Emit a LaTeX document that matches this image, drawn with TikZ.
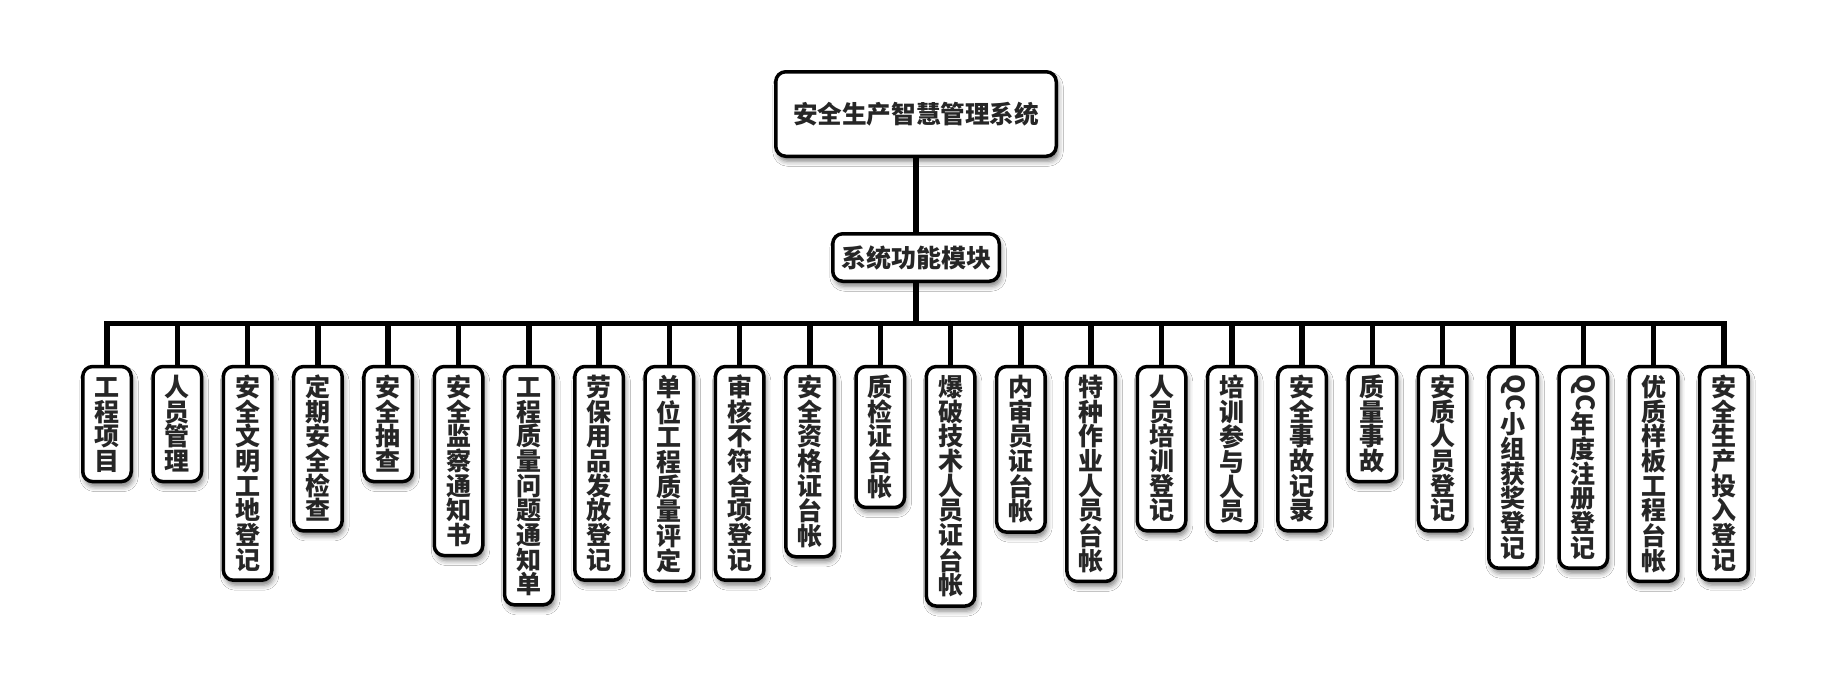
\documentclass[tikz,border=0pt]{standalone}
\usepackage{fontspec}
\newfontfamily\cjk{Noto Sans CJK SC}
\usetikzlibrary{positioning,shadows.blur}
\tikzset{
  panel/.style={draw,line width=3.5pt,rounded corners=10pt,fill=white,text=black!85,
    blur shadow={shadow xshift=2pt,shadow yshift=-5pt,shadow blur radius=5pt,shadow opacity=50}},
  topbox/.style={panel,minimum width=280.5pt,minimum height=84.5pt,
    font=\cjk\bfseries\fontsize{24.6}{28}\selectfont},
  modbox/.style={panel,minimum width=166.5pt,minimum height=47.5pt,
    font=\cjk\bfseries\fontsize{25}{28}\selectfont},
  leaf/.style={panel,anchor=north,minimum width=48.5pt,inner xsep=0pt,inner ysep=8.25pt,align=center,
    font=\cjk\bfseries\fontsize{25}{24.65}\selectfont},
  wire/.style={line width=5.5pt}
}
% one character per line, for the upright labels
\newcommand\vchar[1]{\rule[-2.9pt]{0pt}{24.65pt}#1}
\newcommand\vstack[1]{\expandafter\vstackfirst#1\relax}
\def\vstackfirst#1{\vchar{#1}\vstackloop}
\def\vstackloop#1{\ifx\relax#1\else\\\vchar{#1}\expandafter\vstackloop\fi}
\newcommand\qcmark{\rotatebox[origin=c]{-90}{QC}}

\begin{document}
\begin{tikzpicture}[x=1pt,y=-1pt]
\fill[white] (0,0) rectangle (1831,681);
\useasboundingbox (0,0) rectangle (1831,681);

\node[topbox] (top) at (916,114) {安全生产智慧管理系统};
\node[modbox,below=74pt of top] (mid) {系统功能模块};
\coordinate (bus) at (916,323.5);

\foreach \txt [count=\i] in {工程项目,人员管理,安全文明工地登记,定期安全检查,安全抽查,
  安全监察通知书,工程质量问题通知单,劳保用品发放登记,单位工程质量评定,审核不符合项登记,
  安全资格证台帐,质检证台帐,爆破技术人员证台帐,内审员证台帐,特种作业人员台帐,
  人员培训登记,培训参与人员,安全事故记录,质量事故,安质人员登记,
  \qcmark 小组获奖登记,\qcmark 年度注册登记,优质样板工程台帐,安全生产投入登记}
  \node[leaf] (leaf\i) at ({107+70.3*(\i-1)},364.75) {\vstack\txt};

\draw[wire] (top) -- (mid);
\draw[wire] (mid) -- (bus);
\foreach \i in {1,...,24}
  \draw[wire] (bus) -| (leaf\i.north);

\end{tikzpicture}
\end{document}
